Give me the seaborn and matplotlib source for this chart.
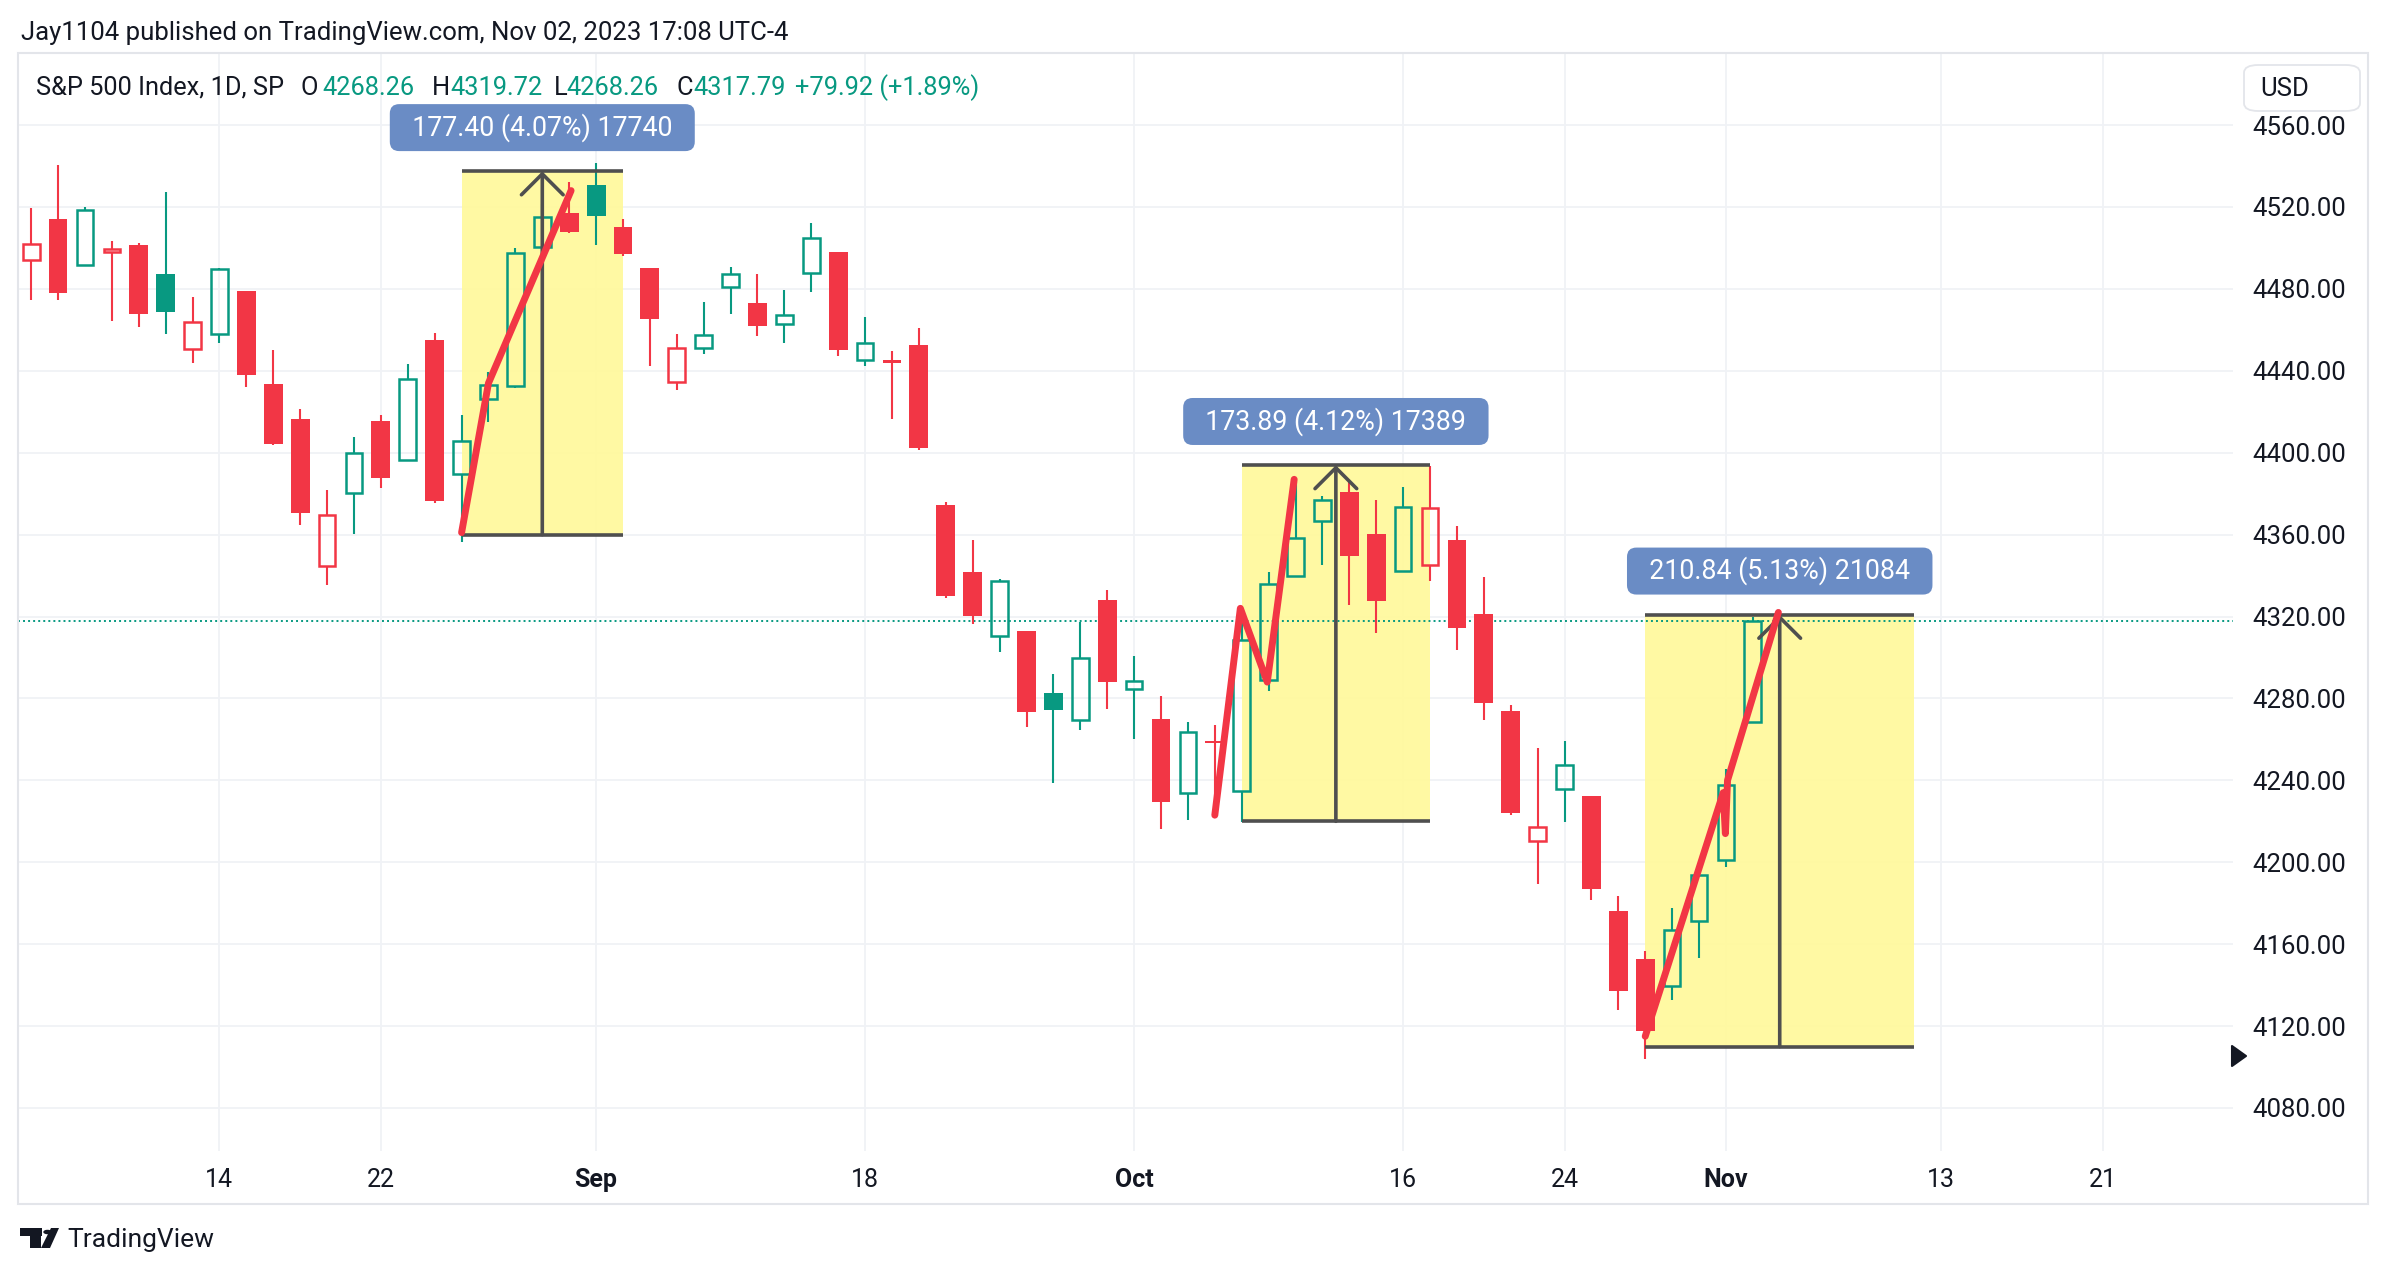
import numpy as np
import pandas as pd
import matplotlib
matplotlib.use("Agg")
import matplotlib.pyplot as plt
import seaborn as sns
from matplotlib.patches import Rectangle, FancyBboxPatch, Polygon, Circle

# ---------------- data ----------------
dates = ["2023-08-03", "2023-08-04", "2023-08-07", "2023-08-08", "2023-08-09", "2023-08-10",
         "2023-08-11", "2023-08-14", "2023-08-15", "2023-08-16", "2023-08-17", "2023-08-18",
         "2023-08-21", "2023-08-22", "2023-08-23", "2023-08-24", "2023-08-25", "2023-08-28",
         "2023-08-29", "2023-08-30", "2023-08-31", "2023-09-01", "2023-09-05", "2023-09-06",
         "2023-09-07", "2023-09-08", "2023-09-11", "2023-09-12", "2023-09-13", "2023-09-14",
         "2023-09-15", "2023-09-18", "2023-09-19", "2023-09-20", "2023-09-21", "2023-09-22",
         "2023-09-25", "2023-09-26", "2023-09-27", "2023-09-28", "2023-09-29", "2023-10-02",
         "2023-10-03", "2023-10-04", "2023-10-05", "2023-10-06", "2023-10-09", "2023-10-10",
         "2023-10-11", "2023-10-12", "2023-10-13", "2023-10-16", "2023-10-17", "2023-10-18",
         "2023-10-19", "2023-10-20", "2023-10-23", "2023-10-24", "2023-10-25", "2023-10-26",
         "2023-10-27", "2023-10-30", "2023-10-31", "2023-11-01", "2023-11-02"]
opens = [4494.27, 4513.96, 4491.58, 4498.03, 4501.57, 4487.16, 4450.69, 4458.13, 4478.87,
         4433.79, 4416.32, 4344.88, 4380.28, 4415.33, 4396.44, 4455.16, 4389.38, 4426.03,
         4432.75, 4500.34, 4517.01, 4530.60, 4510.06, 4490.35, 4434.55, 4451.30, 4480.98,
         4473.27, 4462.65, 4487.78, 4497.98, 4445.13, 4445.41, 4452.81, 4374.36, 4341.74,
         4310.62, 4312.88, 4282.63, 4269.65, 4328.18, 4284.52, 4269.75, 4233.83, 4259.31,
         4234.79, 4289.02, 4339.75, 4366.59, 4380.94, 4360.49, 4342.37, 4345.23, 4357.35,
         4321.36, 4273.85, 4210.40, 4235.79, 4232.42, 4175.99, 4152.93, 4139.39, 4171.33,
         4201.27, 4268.26]
highs = [4519.49, 4540.34, 4519.84, 4503.31, 4502.44, 4527.37, 4476.23, 4490.33, 4478.87,
         4449.95, 4421.17, 4381.82, 4407.55, 4418.59, 4443.18, 4458.30, 4418.46, 4439.56,
         4500.14, 4521.65, 4532.26, 4541.25, 4514.29, 4490.35, 4457.81, 4473.53, 4490.77,
         4487.11, 4479.39, 4511.99, 4497.98, 4466.36, 4449.85, 4461.03, 4375.70, 4357.40,
         4338.51, 4313.01, 4292.07, 4317.27, 4333.15, 4300.58, 4281.15, 4268.50, 4267.13,
         4324.10, 4341.73, 4385.46, 4378.64, 4385.85, 4377.10, 4383.33, 4393.57, 4364.20,
         4339.54, 4276.56, 4255.84, 4259.38, 4232.42, 4183.60, 4156.70, 4177.47, 4195.55,
         4245.64, 4319.72]
lows = [4474.55, 4474.55, 4491.15, 4464.39, 4461.33, 4457.92, 4443.98, 4453.44, 4432.19,
        4403.55, 4364.83, 4335.31, 4360.30, 4382.77, 4396.44, 4375.55, 4356.29, 4414.98,
        4431.68, 4493.59, 4507.39, 4501.35, 4496.01, 4442.38, 4430.46, 4448.38, 4467.89,
        4456.83, 4453.52, 4478.69, 4447.21, 4442.11, 4416.61, 4401.38, 4329.17, 4316.49,
        4302.70, 4265.98, 4238.63, 4264.38, 4274.86, 4260.21, 4216.45, 4220.48, 4225.91,
        4219.55, 4283.79, 4339.64, 4345.34, 4325.43, 4311.97, 4342.37, 4337.54, 4303.84,
        4269.69, 4223.03, 4189.22, 4219.43, 4181.42, 4127.90, 4103.78, 4132.94, 4153.12,
        4197.74, 4268.26]
closes = [4501.89, 4478.03, 4518.44, 4499.38, 4467.71, 4468.83, 4464.05, 4489.72, 4437.86,
          4404.33, 4370.36, 4369.71, 4399.77, 4387.55, 4436.01, 4376.31, 4405.71, 4433.31,
          4497.63, 4514.87, 4507.66, 4515.77, 4496.83, 4465.48, 4451.14, 4457.49, 4487.46,
          4461.90, 4467.44, 4505.10, 4450.32, 4453.53, 4443.95, 4402.20, 4330.00, 4320.06,
          4337.44, 4273.53, 4274.51, 4299.70, 4288.05, 4288.39, 4229.45, 4263.75, 4258.19,
          4308.50, 4335.66, 4358.24, 4376.95, 4349.61, 4327.78, 4373.63, 4373.20, 4314.60,
          4278.00, 4224.16, 4217.04, 4247.68, 4186.77, 4137.23, 4117.37, 4166.82, 4193.80,
          4237.86, 4317.79]
prev_close_first = 4513.39

tick_dates = ["2023-08-14", "2023-08-22", "2023-09-01", "2023-09-18", "2023-10-02",
              "2023-10-16", "2023-10-24", "2023-11-01", "2023-11-13", "2023-11-21"]
tick_labels = ["14", "22", "Sep", "18", "Oct", "16", "24", "Nov", "13", "21"]
price_ticks = [4080, 4120, 4160, 4200, 4240, 4280, 4320, 4360, 4400, 4440, 4480, 4520, 4560]

range_start = ["2023-08-25", "2023-10-06", "2023-10-27"]
range_end = ["2023-09-05", "2023-10-17", "2023-11-10"]
range_low = [4360.00, 4220.00, 4110.00]
range_high = [4537.40, 4393.89, 4320.84]
range_labels = ["177.40 (4.07%) 17740", "173.89 (4.12%) 17389", "210.84 (5.13%) 21084"]

# hand-drawn red lines (x in trading-day index, y in price)
trend1_x = [16.0, 17.0, 20.07]
trend1_y = [4361, 4434, 4528]
trend2_x = [44.0, 44.95, 45.95, 46.95]
trend2_y = [4223, 4324, 4288, 4387]
trend3_x = [60.0, 62.9, 62.98, 63.06, 64.95]
trend3_y = [4115, 4234, 4214, 4240, 4322]

header1 = "Jay1104 published on TradingView.com, Nov 02, 2023 17:08 UTC-4"
header2_parts = ["S&P 500 Index, 1D, SP", "O", "4268.26", "H", "4319.72", "L", "4268.26",
                 "C", "4317.79", "+79.92 (+1.89%)"]
header2_is_value = [False, False, True, False, True, False, True, False, True, True]

# ---------------- style ----------------
sns.set_theme(style="white")
FONT = ["Roboto", "DejaVu Sans"]
plt.rcParams["font.family"] = FONT
GREEN = "#089981"
RED = "#F23645"
DARK = "#131722"
GRID = "#F0F2F6"

W, H = 2390, 1274
fig = plt.figure(figsize=(W / 100, H / 100), dpi=100)
fig.patch.set_facecolor("white")
Lp, Rp, Tp, Bp = 18, 2233, 53, 1151
ax = fig.add_axes([Lp / W, 1 - Bp / H, (Rp - Lp) / W, (Bp - Tp) / H])
ax.set_facecolor("white")

calendar = pd.bdate_range("2023-08-03", "2023-11-30")
calendar = calendar[~calendar.isin(pd.to_datetime(["2023-09-04", "2023-11-23"]))]
pos = {d.strftime("%Y-%m-%d"): i for i, d in enumerate(calendar)}

x = np.array([pos[d] for d in dates], dtype=float)
o = np.array(opens); h = np.array(highs); l = np.array(lows); c = np.array(closes)
prev = np.concatenate([[prev_close_first], c[:-1]])
is_up_color = c >= prev
hollow = c > o
colors = np.where(is_up_color, GREEN, RED)

ax.set_xlim(-0.49, 81.85)
ax.set_ylim(4059.0, 4595.2)

# grid
xt = [pos[d] for d in tick_dates]
for v in price_ticks:
    ax.axhline(v, color=GRID, lw=1.3, zorder=0)
for v in xt:
    ax.axvline(v, color=GRID, lw=1.3, zorder=0)

# range boxes (yellow)
for s, e, lo, hi in zip(range_start, range_end, range_low, range_high):
    xs, xe = pos[s], pos[e]
    ax.add_patch(Rectangle((xs, lo), xe - xs, hi - lo, facecolor="#FFF99E",
                           edgecolor="none", alpha=0.95, zorder=1))

# last price line
ax.axhline(c[-1], color=GREEN, lw=1.4, linestyle=(0, (1, 1.6)), zorder=1.5)

# candles
body_top = np.maximum(o, c)
body_bot = np.minimum(o, c)
ax.vlines(x, body_top, h, colors=colors, lw=1.5, zorder=2)
ax.vlines(x, l, body_bot, colors=colors, lw=1.5, zorder=2)
filled = ~hollow
ax.bar(x[filled], np.maximum(body_top - body_bot, 0.8)[filled], bottom=body_bot[filled],
       width=0.70, color=colors[filled], edgecolor="none", zorder=2)
ax.bar(x[hollow], np.maximum(body_top - body_bot, 0.8)[hollow], bottom=body_bot[hollow],
       width=0.62, facecolor="none", edgecolor=colors[hollow], linewidth=1.8, zorder=2)

# range measurement lines & arrows & labels
for s, e, lo, hi, lab in zip(range_start, range_end, range_low, range_high, range_labels):
    xs, xe = pos[s], pos[e]
    xm = (xs + xe) / 2
    ax.hlines([lo, hi], xs, xe, color="#4F4F4F", lw=2.6, zorder=3)
    ax.annotate("", xy=(xm, hi), xytext=(xm, lo),
                arrowprops=dict(arrowstyle="->,head_length=1.25,head_width=1.25",
                                color="#4F4F4F", lw=2.6, shrinkA=0, shrinkB=0),
                zorder=3)
    ax.annotate("  " + lab + "  ", xy=(xm, hi), xytext=(0, 31.5), textcoords="offset points",
                ha="center", va="center", color="white", fontsize=19.3,
                bbox=dict(boxstyle="round,pad=0.34,rounding_size=0.35", fc="#6A8CC5",
                          ec="none"), zorder=6, annotation_clip=False)

# red hand-drawn lines
for tx, ty in [(trend1_x, trend1_y), (trend2_x, trend2_y), (trend3_x, trend3_y)]:
    sns.lineplot(x=tx, y=ty, sort=False, color=RED, lw=5.0, ax=ax,
                 solid_capstyle="round", solid_joinstyle="round", zorder=4)

# axes styling
for sp in ax.spines.values():
    sp.set_visible(False)
ax.set_xticks(xt)
ax.set_xticklabels(tick_labels)
for lbl, txt in zip(ax.get_xticklabels(), tick_labels):
    lbl.set_fontsize(18)
    lbl.set_color(DARK)
    if not txt.isdigit():
        lbl.set_fontweight("bold")
ax.tick_params(axis="x", length=0, pad=12)
ax.yaxis.tick_right()
ax.set_yticks(price_ticks)
ax.set_yticklabels([f"{v:.2f}" for v in price_ticks])
ax.tick_params(axis="y", length=0, pad=14, labelsize=18.5, labelcolor=DARK)
ax.set_xlabel("")
ax.set_ylabel("")
ax.grid(False)

# outer frame
fig.add_artist(Rectangle((Lp / W, 1 - 1204 / H), (2368 - Lp) / W, (1204 - Tp) / H,
                         transform=fig.transFigure, fill=False, ec="#E3E5EA", lw=1.5))

# header
fig.text(21 / W, 1 - 33 / H, header1, fontsize=18.5, color=DARK, va="center", ha="left")
header2_x = [36, 300, 322, 432, 450, 554, 566, 676, 693, 795]
for px, txt, isv in zip(header2_x, header2_parts, header2_is_value):
    fig.text(px / W, 1 - 88 / H, txt, fontsize=18.3, color=GREEN if isv else DARK,
             va="center", ha="left")

# USD box
fig.add_artist(FancyBboxPatch((2244 / W, 1 - 111 / H), (2360 - 2244) / W, (111 - 65) / H,
                              boxstyle="round,pad=0,rounding_size=0.006",
                              transform=fig.transFigure, fc="white", ec="#E3E5EA",
                              lw=1.3, zorder=5))
fig.text(2260 / W, 1 - 89 / H, "USD", fontsize=18.5, color=DARK, va="center",
         ha="left", zorder=6)

# scroll arrow
fig.add_artist(Polygon([[2232 / W, 1 - 1046 / H], [2232 / W, 1 - 1066 / H],
                        [2246 / W, 1 - 1056 / H]], closed=True, transform=fig.transFigure,
                       fc=DARK, ec=DARK, lw=1.5, joinstyle="round", zorder=5))

# TradingView logo
fig.add_artist(Rectangle((20 / W, 1 - 1236 / H), 22 / W, 8 / H, transform=fig.transFigure,
                         fc=DARK, ec="none"))
fig.add_artist(Rectangle((30 / W, 1 - 1248 / H), 11 / W, 20 / H, transform=fig.transFigure,
                         fc=DARK, ec="none"))
fig.add_artist(Circle((47.5 / W, 1 - 1232 / H), 4.2 / W, transform=fig.transFigure,
                      fc=DARK, ec="none"))
fig.add_artist(Polygon([[50 / W, 1 - 1248 / H], [41 / W, 1 - 1248 / H],
                        [51 / W, 1 - 1228 / H], [59 / W, 1 - 1228 / H]], closed=True,
                       transform=fig.transFigure, fc=DARK, ec="none"))
fig.text(67 / W, 1 - 1240 / H, "TradingView", fontsize=19, color=DARK, va="center",
         ha="left")

fig.savefig("out.png", dpi=100, facecolor="white")
